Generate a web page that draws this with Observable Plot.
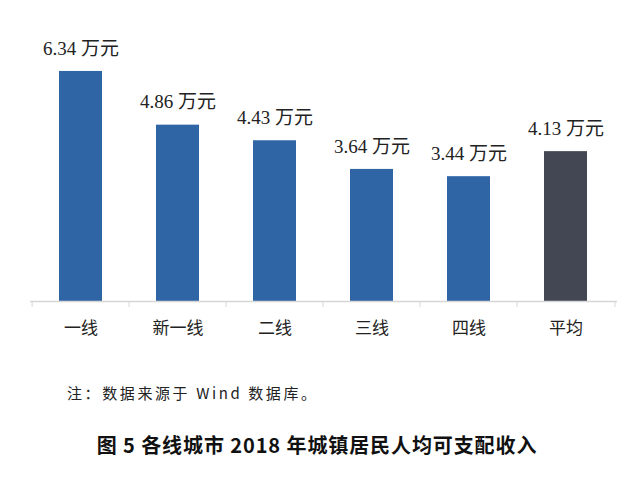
<!DOCTYPE html>
<html>
<head>
<meta charset="utf-8">
<script src="https://cdn.jsdelivr.net/npm/d3@7"></script>
<script src="https://cdn.jsdelivr.net/npm/@observablehq/plot@0.6"></script>
<style>
  body { margin: 0; background: #fff; width: 640px; height: 481px; overflow: hidden; }
  #note { margin: 38px 0 0 67px; font: 15px "Noto Sans CJK SC", sans-serif; line-height: 20px; letter-spacing: 2.6px; color: #222; }
  #title { margin: 29px 0 0 0; padding-right: 6px; text-align: center; font: bold 20px "Noto Sans CJK SC", sans-serif; line-height: 26px; letter-spacing: 0.9px; color: #111; }
</style>
</head>
<body>
<div id="chart"></div>
<div id="note">注：数据来源于 Wind 数据库。</div>
<div id="title">图 5 各线城市 2018 年城镇居民人均可支配收入</div>
<script>
const categories = ["一线", "新一线", "二线", "三线", "四线", "平均"];
const values = [6.34, 4.86, 4.43, 3.64, 3.44, 4.13];
const kinds = ["线", "线", "线", "线", "线", "平均"];
const unit = "万元";

const data = categories.map((c, i) => ({ category: c, value: values[i], kind: kinds[i] }));

const W = 640, mL = 30, mR = 23;
const step = (W - mL - mR) / categories.length;

const chart = Plot.plot({
  width: W,
  height: 345,
  marginLeft: mL,
  marginRight: mR,
  marginTop: 47,
  marginBottom: 44,
  x: { domain: categories, paddingInner: 0.553, paddingOuter: 0.28, axis: null },
  y: { domain: [0, 7], axis: null },
  color: { domain: ["线", "平均"], range: ["#2f65a5", "#424753"] },
  marks: [
    Plot.barY(data, { x: "category", y: "value", fill: "kind" }),
    Plot.ruleY([0], { stroke: "#d6d6d6", strokeWidth: 1.3 }),
    Plot.axisX(categories, { tickSize: 6, tickFormat: () => "", label: null, stroke: "#d6d6d6", dx: -step / 2 }),
    Plot.axisX([categories[categories.length - 1]], { tickSize: 6, tickFormat: () => "", label: null, stroke: "#d6d6d6", dx: step / 2 }),
    Plot.axisX({ tickSize: 0, tickPadding: 20, label: null, fontSize: 17, fill: "#222", fontFamily: "'Noto Sans CJK SC', sans-serif" }),
    Plot.text(data, {
      x: "category",
      y: "value",
      text: d => d.value.toFixed(2) + " " + unit,
      dy: -23,
      fontSize: 19,
      fill: "#222",
      fontFamily: "'Liberation Serif', 'Times New Roman', 'Noto Sans CJK SC', serif",
      style: "letter-spacing: 1.2px"
    })
  ]
});
document.getElementById("chart").appendChild(chart);
</script>
</body>
</html>
